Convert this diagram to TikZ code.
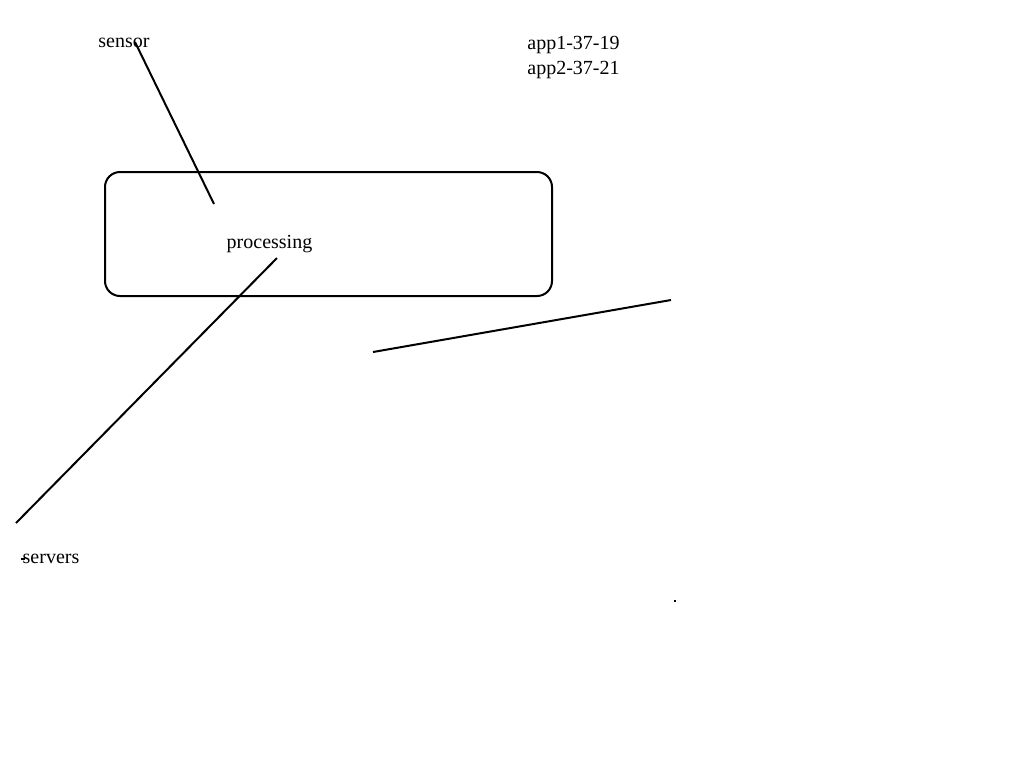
\documentclass[tikz,border=0pt]{standalone}
\usepackage{fontspec}
\setmainfont{Liberation Serif}
\tikzset{
  label/.style={inner sep=0pt, font=\fontsize{10}{12.5}\selectfont},
  wire/.style={line width=1pt},
}
\begin{document}
\begin{tikzpicture}[x=0.5pt, y=-0.5pt]
  \useasboundingbox (0,0) rectangle (1024,768);
  \node [draw, line width=1pt, rounded corners=7.5pt, minimum width=223.5pt, minimum height=62pt] (box) at (328.5,234) {};
  \node [label] (sensor) at (124,43) {sensor};
  \node [label, align=left, anchor=north west] (apps) at (527,36) {app1-37-19\\app2-37-21};
  \node [label] (proc) at (269.5,244) {processing};
  \node [label] (servers) at (51,559) {servers};
  \coordinate (s1) at (135,42);
  \coordinate (s2) at (214,204);
  \coordinate (p1) at (277,258);
  \coordinate (p2) at (16,523);
  \coordinate (r1) at (373,352);
  \coordinate (r2) at (671,300);
  \draw [wire] (s1) -- (s2);
  \draw [wire] (p1) -- (p2);
  \draw [wire] (r1) -- (r2);
  \draw [line width=0.75pt] (21,559) -- (25,559);
  \fill (674,600) rectangle (676,602);
\end{tikzpicture}
\end{document}
